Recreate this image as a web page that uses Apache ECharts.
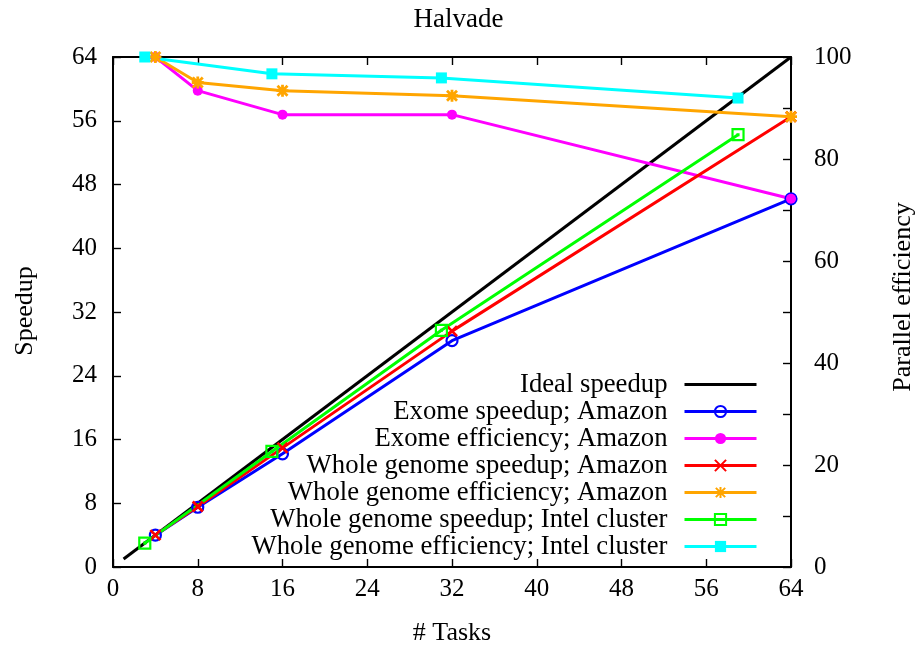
<!DOCTYPE html>
<html>
<head>
<meta charset="utf-8">
<title>Halvade</title>
<script src="https://cdn.jsdelivr.net/npm/echarts@6/dist/echarts.min.js"></script>
<style>
  html, body { margin: 0; padding: 0; background: #fff; }
  #chart { width: 917px; height: 645px; }
</style>
</head>
<body>
<div id="chart"></div>
<script>
// Task counts per platform
const idealTasks = [1, 64];
const amazonTasks = [4, 8, 16, 32, 64];
const intelTasks = [3, 15, 31, 59];

// Speedup (left axis) and parallel efficiency in % (right axis)
const idealSpeedup = [1, 64];
const exomeSpeedupAmazon = [4.0, 7.5, 14.2, 28.4, 46.2];
const exomeEfficiencyAmazon = [100, 93.4, 88.7, 88.7, 72.2];
const genomeSpeedupAmazon = [4.0, 7.6, 14.95, 29.6, 56.5];
const genomeEfficiencyAmazon = [100, 95.0, 93.4, 92.4, 88.3];
const genomeSpeedupIntel = [3.0, 14.5, 29.7, 54.25];
const genomeEfficiencyIntel = [100, 96.7, 95.9, 91.95];

// Axis ticks
const taskTicks = { min: 0, max: 64, step: 8 };
const speedupTicks = { min: 0, max: 64, step: 8 };
const efficiencyTicks = { min: 0, max: 100, step: 10, labelStep: 20 };

const FONT = '"Liberation Serif", "DejaVu Serif", serif';
const LINE_W = 3;
const pairs = (xs, ys) => xs.map((x, i) => [x, ys[i]]);

const crossPath = 'path://M0,0L10,10M10,0L0,10';
const starPath = 'path://M0,0L10,10M10,0L0,10M5,-1L5,11M-1,5L11,5';
const boxPath = 'path://M0,0L10,0L10,10L0,10Z M4.6,4.6L5.4,4.6L5.4,5.4L4.6,5.4Z';

function lineSeries(name, data, color, yAxisIndex, sym) {
  return Object.assign({
    name: name,
    type: 'line',
    data: data,
    yAxisIndex: yAxisIndex,
    color: color,
    lineStyle: { color: color, width: LINE_W },
    symbolKeepAspect: true,
    showAllSymbol: true,
    emphasis: { disabled: true },
    z: 2
  }, sym);
}

const series = [
  lineSeries('Ideal speedup', pairs(idealTasks, idealSpeedup), '#000000', 0, {
    symbol: 'circle', showSymbol: false, symbolSize: 0,
    itemStyle: { color: '#000000', opacity: 0 }
  }),
  lineSeries('Exome speedup; Amazon', pairs(amazonTasks, exomeSpeedupAmazon), '#0000ff', 0, {
    symbol: 'circle', symbolSize: 11,
    itemStyle: { color: 'none', borderColor: '#0000ff', borderWidth: 2.2 }
  }),
  lineSeries('Exome efficiency; Amazon', pairs(amazonTasks, exomeEfficiencyAmazon), '#ff00ff', 1, {
    symbol: 'circle', symbolSize: 10,
    itemStyle: { color: '#ff00ff' }
  }),
  lineSeries('Whole genome speedup; Amazon', pairs(amazonTasks, genomeSpeedupAmazon), '#ff0000', 0, {
    symbol: crossPath, symbolSize: 10,
    itemStyle: { color: 'none', borderColor: '#ff0000', borderWidth: 2.8 }
  }),
  lineSeries('Whole genome efficiency; Amazon', pairs(amazonTasks, genomeEfficiencyAmazon), '#ffa500', 1, {
    symbol: starPath, symbolSize: 12,
    itemStyle: { color: 'none', borderColor: '#ffa500', borderWidth: 2.8 }
  }),
  lineSeries('Whole genome speedup; Intel cluster', pairs(intelTasks, genomeSpeedupIntel), '#00ff00', 0, {
    symbol: boxPath, symbolSize: 11,
    itemStyle: { color: 'none', borderColor: '#00ff00', borderWidth: 2.2 }
  }),
  lineSeries('Whole genome efficiency; Intel cluster', pairs(intelTasks, genomeEfficiencyIntel), '#00ffff', 1, {
    symbol: 'rect', symbolSize: 11,
    itemStyle: { color: '#00ffff' }
  })
];

const axisLine = { show: true, onZero: false, lineStyle: { color: '#000', width: 2 } };
const tick = { show: true, inside: true, length: 8, lineStyle: { color: '#000', width: 1.4 } };
const labelStyle = { color: '#000', fontFamily: FONT, fontSize: 25 };

const chart = echarts.init(document.getElementById('chart'), null, { renderer: 'canvas' });
chart.setOption({
  animation: false,
  backgroundColor: '#ffffff',
  title: {
    text: 'Halvade',
    left: 'center',
    top: 1,
    textStyle: { color: '#000', fontFamily: FONT, fontSize: 27, fontWeight: 'normal' }
  },
  grid: { left: 113, right: 126, top: 57, bottom: 78, outerBoundsMode: 'none', containLabel: false },
  xAxis: [{
    type: 'value', position: 'bottom',
    min: taskTicks.min, max: taskTicks.max, interval: taskTicks.step,
    axisLine: axisLine, axisTick: tick, splitLine: { show: false },
    axisLabel: Object.assign({ margin: 10 }, labelStyle)
  }, {
    type: 'value', position: 'top',
    min: taskTicks.min, max: taskTicks.max, interval: taskTicks.step,
    axisLine: axisLine, axisTick: tick, splitLine: { show: false },
    axisLabel: { show: false }
  }],
  yAxis: [{
    type: 'value', position: 'left',
    min: speedupTicks.min, max: speedupTicks.max, interval: speedupTicks.step,
    axisLine: axisLine, axisTick: tick, splitLine: { show: false },
    axisLabel: Object.assign({ margin: 16 }, labelStyle)
  }, {
    type: 'value', position: 'right',
    min: efficiencyTicks.min, max: efficiencyTicks.max, interval: efficiencyTicks.step,
    axisLine: axisLine, axisTick: tick, splitLine: { show: false },
    axisLabel: Object.assign({
      margin: 23,
      formatter: v => (v % efficiencyTicks.labelStep === 0 ? String(v) : '')
    }, labelStyle)
  }],
  legend: {
    orient: 'vertical',
    align: 'right',
    right: 159,
    top: 371,
    padding: 0,
    itemGap: 0,
    itemWidth: 72,
    itemHeight: 14,
    selectedMode: false,
    lineStyle: { width: LINE_W },
    textStyle: {
      color: '#000', fontFamily: FONT, fontSize: 26.7, lineHeight: 26.8,
      padding: [0, 12, 0, 0]
    },
    data: series.map(s => s.name)
  },
  graphic: [
    { type: 'text', x: 25, y: 311, rotation: Math.PI / 2,
      style: { text: 'Speedup', fill: '#000', font: '26px ' + FONT, align: 'center', verticalAlign: 'middle' } },
    { type: 'text', x: 903, y: 297, rotation: Math.PI / 2,
      style: { text: 'Parallel efficiency', fill: '#000', font: '26px ' + FONT, align: 'center', verticalAlign: 'middle' } },
    { type: 'text', x: 452, y: 633,
      style: { text: '# Tasks', fill: '#000', font: '26px ' + FONT, align: 'center', verticalAlign: 'middle' } }
  ],
  series: series
});
</script>
</body>
</html>
